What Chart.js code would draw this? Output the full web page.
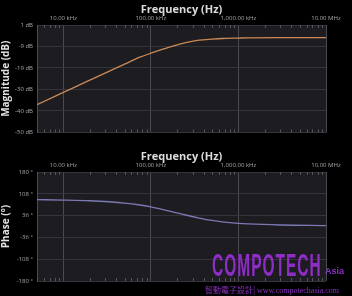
<!DOCTYPE html>
<html>
<head>
<meta charset="utf-8">
<script src="https://cdn.jsdelivr.net/npm/chart.js@4.4.1/dist/chart.umd.min.js"></script>
<style>
  html, body { margin: 0; padding: 0; background: #000; }
  body { width: 352px; height: 296px; position: relative; overflow: hidden; }
  .box { position: absolute; left: 0; width: 352px; }
  #top { top: 0; height: 140px; }
  #bot { top: 140px; height: 156px; }
  .mark { position: absolute; color: #8e2fc4; font-family: "Liberation Sans Narrow", "Liberation Sans", sans-serif; }
  #brand { left: 212px; top: 248px; font-size: 31px; font-weight: bold; transform: scaleX(0.5); transform-origin: left top; text-shadow: 0 0 1px #3a0a55; letter-spacing: 2px; }
  #asia { left: 325px; top: 266px; font-size: 9px; font-weight: bold; }
  #site { left: 205px; top: 284px; font-size: 8px; font-family: "Noto Sans CJK TC", "Liberation Serif", serif; white-space: nowrap; }
</style>
</head>
<body>
<div class="box" id="top"><canvas id="mag"></canvas></div>
<div class="box" id="bot"><canvas id="phase"></canvas></div>
<div class="mark" id="brand">COMPOTECH</div>
<div class="mark" id="asia">Asia</div>
<div class="mark" id="site">智動電子設計| <span style="font-family:'Liberation Serif',serif">www.compotechasia.com</span></div>
<script>
// values
const freqs = [5000, 10000, 20000, 50000, 75000, 100000, 137000, 178000, 250000, 357000, 500000, 650000, 1000000, 1300000, 3000000, 10000000];
const magnitude = [-36.8, -31.0, -25.2, -17.6, -14.3, -12.4, -10.5, -9.0, -7.4, -6.2, -5.7, -5.4, -5.2, -5.1, -5.0, -5.0];
const phase = [88.7, 87.4, 85, 77.5, 71, 64.5, 56, 48.5, 38, 28, 20, 15.5, 10.5, 8.5, 5, 3];

const decades = [10000, 100000, 1000000, 10000000];
const decadeLabels = ['10.00 kHz', '100.00 kHz', '1,000.00 kHz', '10.00 MHz'];
const magTicks = [-50, -39.8, -29.6, -19.4, -9.2, 1];
const phaseTicks = [-180, -108, -36, 36, 108, 180];

const PLOT_BG = '#1d1d21';
const GRID = '#34343a';
const DECADE = '#4a4a50';

// every 1..9 x decade between 5 kHz and 10 MHz
function logTicks() {
    const out = [];
    for (let e = 3; e <= 7; e++) {
        for (let m = 1; m <= 9; m++) {
            const v = m * Math.pow(10, e);
            if (v >= 5000 && v <= 10000000) out.push({ value: v });
        }
    }
    return out;
}

const plotBg = {
    id: 'plotBg',
    beforeDraw(chart) {
        const a = chart.chartArea, ctx = chart.ctx;
        ctx.save();
        ctx.fillStyle = PLOT_BG;
        ctx.fillRect(a.left, a.top, a.right - a.left, a.bottom - a.top);
        ctx.restore();
    },
    afterDatasetsDraw(chart) {
        // small minor tick marks inside the plot, top and bottom
        const a = chart.chartArea, ctx = chart.ctx, x = chart.scales.x;
        ctx.save();
        ctx.strokeStyle = '#55555b';
        ctx.lineWidth = 1;
        x.ticks.forEach(t => {
            if (decades.includes(t.value)) return;
            const px = Math.round(x.getPixelForValue(t.value)) + 0.5;
            ctx.beginPath();
            ctx.moveTo(px, a.top); ctx.lineTo(px, a.top + 3);
            ctx.moveTo(px, a.bottom); ctx.lineTo(px, a.bottom - 3);
            ctx.stroke();
        });
        ctx.restore();
    }
};

function makeChart(id, values, color, yTitle, yTickVals, yMin, yMax, unit, areaTop, padBottom, titlePad) {
    return new Chart(document.getElementById(id), {
        type: 'line',
        data: {
            datasets: [{
                data: freqs.map((f, i) => ({ x: f, y: values[i] })),
                borderColor: color,
                borderWidth: 1.3,
                pointRadius: 0,
                cubicInterpolationMode: 'monotone',
                fill: false
            }]
        },
        options: {
            responsive: true,
            maintainAspectRatio: false,
            animation: false,
            layout: { padding: { top: 0, left: 0, right: 26, bottom: padBottom } },
            plugins: { legend: { display: false }, tooltip: { enabled: false } },
            scales: {
                x: {
                    type: 'logarithmic',
                    position: 'top',
                    min: 5000,
                    max: 10000000,
                    afterBuildTicks: s => { s.ticks = logTicks(); },
                    afterFit: s => { s.height = areaTop; },
                    grid: {
                        drawTicks: false,
                        color: c => decades.includes(c.tick.value) ? DECADE : 'transparent'
                    },
                    border: { display: false },
                    ticks: {
                        autoSkip: false,
                        maxRotation: 0,
                        padding: 3,
                        color: '#a8a8a8',
                        font: { family: 'Open Sans', size: 6 },
                        callback: v => {
                            const i = decades.indexOf(v);
                            return i >= 0 ? decadeLabels[i] : '';
                        }
                    },
                    title: {
                        display: true,
                        text: 'Frequency (Hz)',
                        color: '#dcdcdc',
                        padding: { top: titlePad, bottom: 0 },
                        font: { family: 'Open Sans', size: 11, weight: 'bold' }
                    }
                },
                y: {
                    min: yMin,
                    max: yMax,
                    afterBuildTicks: s => { s.ticks = yTickVals.map(v => ({ value: v })); },
                    afterFit: s => { s.width = 37; },
                    grid: { drawTicks: false, color: GRID },
                    border: { color: '#4a4a50' },
                    ticks: {
                        padding: 4,
                        color: '#a8a8a8',
                        font: { family: 'Open Sans', size: 6 },
                        callback: v => Math.round(v) + ' ' + unit
                    },
                    title: {
                        display: true,
                        text: yTitle,
                        color: '#e0e0e0',
                        padding: { top: 0, bottom: 2 },
                        font: { family: 'Open Sans', size: 10, weight: 'bold' }
                    }
                }
            }
        },
        plugins: [plotBg]
    });
}

makeChart('mag', magnitude, '#c98a55', 'Magnitude (dB)', magTicks, -50, 1, 'dB', 25, 4, 3);
makeChart('phase', phase, '#7c79b4', 'Phase (°)', phaseTicks, -180, 180, '°', 32, 15, 10);
</script>
</body>
</html>
